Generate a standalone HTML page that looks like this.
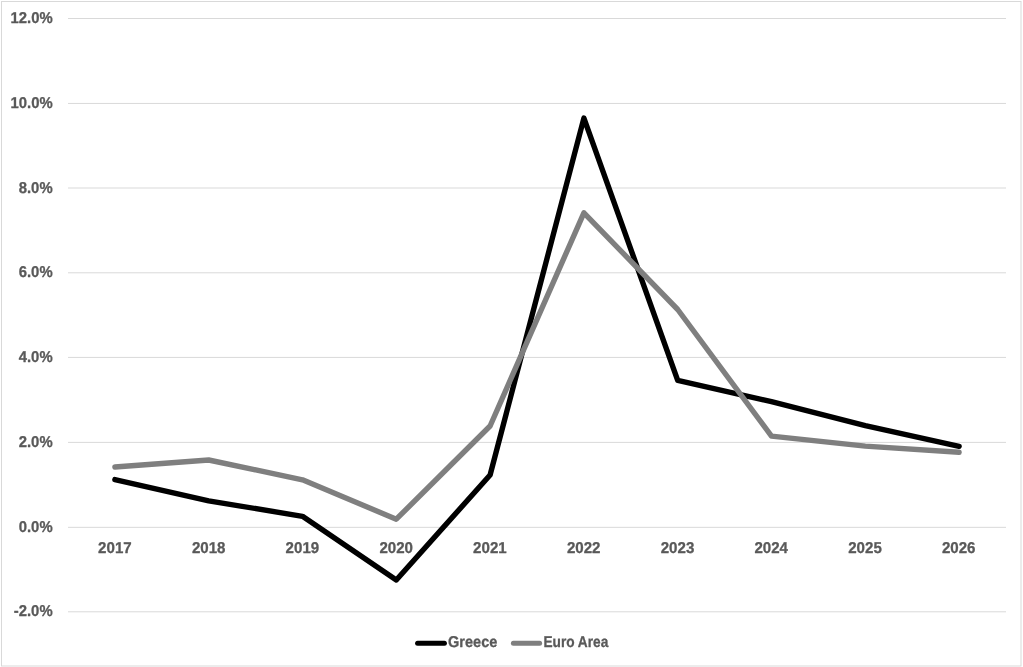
<!DOCTYPE html>
<html lang="en"><head><meta charset="utf-8"><title>Inflation: Greece vs Euro Area</title>
<style>
html,body{margin:0;padding:0;background:#fff;}
body{width:1023px;height:667px;overflow:hidden;}
svg{display:block;}
text{font-family:"Liberation Sans",sans-serif;font-weight:bold;font-size:15.7px;fill:#595959;stroke:#595959;stroke-width:0.3px;stroke-linejoin:round;text-rendering:geometricPrecision;}
</style></head><body>
<svg width="1023" height="667" viewBox="0 0 1023 667">
<rect x="0" y="0" width="1023" height="667" fill="#fff"/>
<rect x="1.5" y="1.5" width="1019.5" height="664.5" fill="none" stroke="#d9d9d9" stroke-width="1"/>
<line x1="68" x2="1006" y1="18.50" y2="18.50" stroke="#d9d9d9" stroke-width="1"/>
<line x1="68" x2="1006" y1="103.45" y2="103.45" stroke="#d9d9d9" stroke-width="1"/>
<line x1="68" x2="1006" y1="188.00" y2="188.00" stroke="#d9d9d9" stroke-width="1"/>
<line x1="68" x2="1006" y1="272.80" y2="272.80" stroke="#d9d9d9" stroke-width="1"/>
<line x1="68" x2="1006" y1="357.42" y2="357.42" stroke="#d9d9d9" stroke-width="1"/>
<line x1="68" x2="1006" y1="442.40" y2="442.40" stroke="#d9d9d9" stroke-width="1"/>
<line x1="68" x2="1006" y1="527.33" y2="527.33" stroke="#d9d9d9" stroke-width="1"/>
<line x1="68" x2="1006" y1="611.80" y2="611.80" stroke="#d9d9d9" stroke-width="1"/>
<polyline points="114.9,479.6 208.7,500.8 302.5,516.3 396.3,580.0 490.1,475.0 583.9,118.1 677.7,380.3 771.5,401.7 865.3,425.6 959.1,446.3" fill="none" stroke="#000" stroke-width="5.4" stroke-linecap="round" stroke-linejoin="round"/>
<polyline points="114.9,467.0 208.7,460.0 302.5,479.8 396.3,519.2 490.1,426.0 583.9,212.8 677.7,309.5 771.5,436.1 865.3,446.1 959.1,452.2" fill="none" stroke="#7f7f7f" stroke-width="5.4" stroke-linecap="round" stroke-linejoin="round"/>
<text transform="translate(52.6,23.0) scale(0.947,1)" text-anchor="end">12.0%</text>
<text transform="translate(52.6,108.0) scale(0.947,1)" text-anchor="end">10.0%</text>
<text transform="translate(52.6,192.5) scale(0.947,1)" text-anchor="end">8.0%</text>
<text transform="translate(52.6,277.3) scale(0.947,1)" text-anchor="end">6.0%</text>
<text transform="translate(52.6,361.9) scale(0.947,1)" text-anchor="end">4.0%</text>
<text transform="translate(52.6,446.9) scale(0.947,1)" text-anchor="end">2.0%</text>
<text transform="translate(52.6,531.8) scale(0.947,1)" text-anchor="end">0.0%</text>
<text transform="translate(52.6,616.3) scale(0.947,1)" text-anchor="end">-2.0%</text>
<text transform="translate(114.9,552.9) scale(0.962,1)" text-anchor="middle">2017</text>
<text transform="translate(208.7,552.9) scale(0.962,1)" text-anchor="middle">2018</text>
<text transform="translate(302.4,552.9) scale(0.962,1)" text-anchor="middle">2019</text>
<text transform="translate(396.2,552.9) scale(0.962,1)" text-anchor="middle">2020</text>
<text transform="translate(489.9,552.9) scale(0.962,1)" text-anchor="middle">2021</text>
<text transform="translate(583.7,552.9) scale(0.962,1)" text-anchor="middle">2022</text>
<text transform="translate(677.5,552.9) scale(0.962,1)" text-anchor="middle">2023</text>
<text transform="translate(771.2,552.9) scale(0.962,1)" text-anchor="middle">2024</text>
<text transform="translate(865.0,552.9) scale(0.962,1)" text-anchor="middle">2025</text>
<text transform="translate(958.7,552.9) scale(0.962,1)" text-anchor="middle">2026</text>
<line x1="417.6" x2="444.4" y1="643.3" y2="643.3" stroke="#000" stroke-width="5" stroke-linecap="round"/>
<text transform="translate(448.0,647.3) scale(0.928,1)">Greece</text>
<line x1="513.4" x2="539.6" y1="643.3" y2="643.3" stroke="#7f7f7f" stroke-width="5" stroke-linecap="round"/>
<text transform="translate(543.4,647.3) scale(0.872,1)">Euro Area</text>
</svg></body></html>
